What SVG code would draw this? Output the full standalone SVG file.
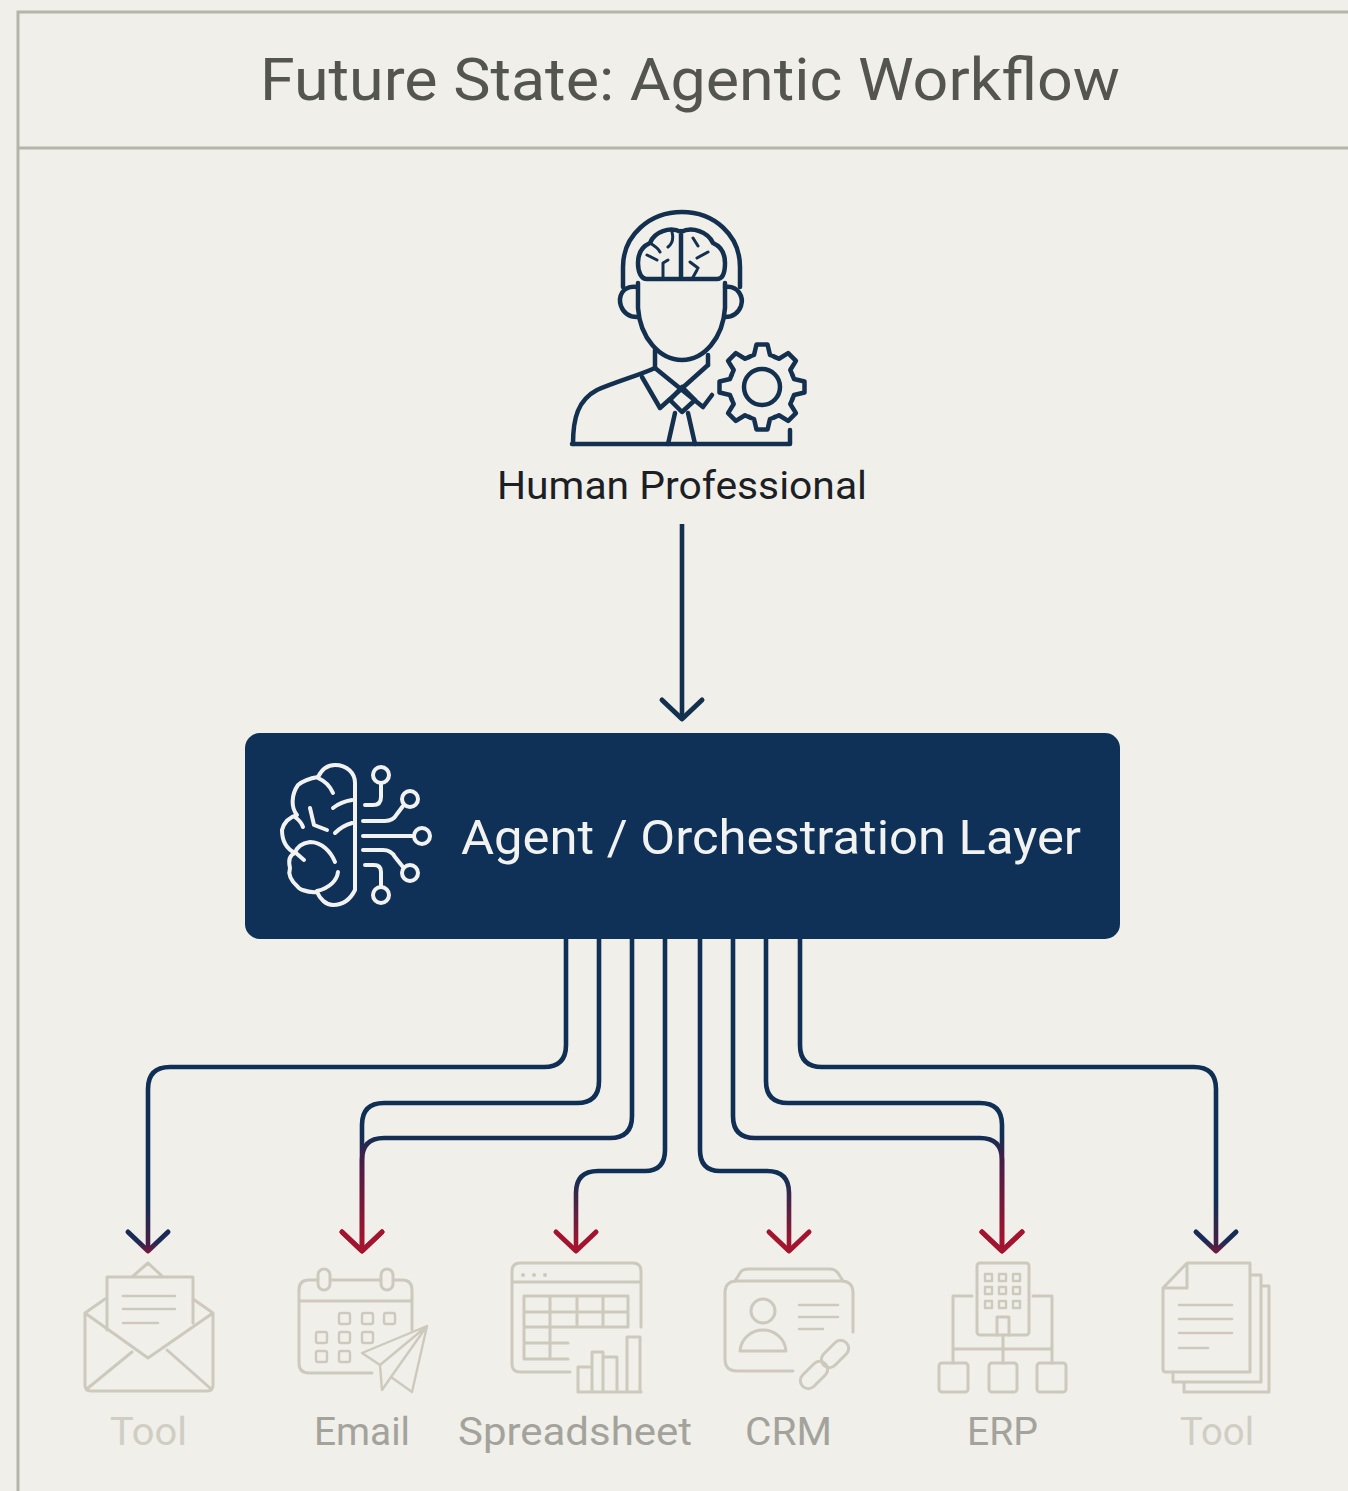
<svg xmlns="http://www.w3.org/2000/svg" xmlns:xlink="http://www.w3.org/1999/xlink" width="1348" height="1491" viewBox="0 0 1348 1491">
<style>
text{font-family:Roboto,"Liberation Sans",sans-serif;text-anchor:middle}
.frame{fill:none;stroke:#b4b4aa;stroke-width:3}
.ico{fill:none;stroke:#14304f;stroke-width:4.5;stroke-linecap:round;stroke-linejoin:round}
.wht{fill:none;stroke:#f2f3f1;stroke-width:4;stroke-linecap:round;stroke-linejoin:round}
.tl{fill:none;stroke:#cdc9bc;stroke-width:3;stroke-linecap:round;stroke-linejoin:round}
.tl2{fill:none;stroke:#cdc9bc;stroke-width:2.4;stroke-linecap:round;stroke-linejoin:round}
.c{fill:none;stroke-width:4.6;stroke-linejoin:round}
.lab{font-size:38px;fill:#a3a39b}
.dim{fill:#d0cdc3}
</style>
<defs>
<linearGradient id="gRed" gradientUnits="userSpaceOnUse" x1="0" y1="1135" x2="0" y2="1240"><stop offset="0" stop-color="#0f2f55"/><stop offset="0.25" stop-color="#471d48"/><stop offset="1" stop-color="#a3142f"/></linearGradient>
<linearGradient id="gRed2" gradientUnits="userSpaceOnUse" x1="0" y1="1175" x2="0" y2="1245"><stop offset="0" stop-color="#0f2f55"/><stop offset="1" stop-color="#a3142f"/></linearGradient>
<linearGradient id="gTool" gradientUnits="userSpaceOnUse" x1="0" y1="1200" x2="0" y2="1255"><stop offset="0" stop-color="#0f2f55"/><stop offset="1" stop-color="#5a1a42"/></linearGradient>
<linearGradient id="gHeadTool" x1="0" y1="0" x2="1" y2="0"><stop offset="0.5" stop-color="#1a2b55"/><stop offset="1" stop-color="#6f1a3c"/></linearGradient>
<marker id="hNavy" viewBox="-24 -24 30 48" refX="0" refY="0" markerWidth="30" markerHeight="48" markerUnits="userSpaceOnUse" orient="auto"><path d="M-19 -20L0 0L-19 20" fill="none" stroke="#14304f" stroke-width="5" stroke-linecap="round" stroke-linejoin="round"/></marker>
<marker id="hRed" viewBox="-24 -24 30 48" refX="0" refY="0" markerWidth="30" markerHeight="48" markerUnits="userSpaceOnUse" orient="auto"><path d="M-19 -20L0 0L-19 20" fill="none" stroke="#a3142f" stroke-width="5" stroke-linecap="round" stroke-linejoin="round"/></marker>
<marker id="hTool" viewBox="-24 -24 30 48" refX="0" refY="0" markerWidth="30" markerHeight="48" markerUnits="userSpaceOnUse" orient="auto"><path d="M-19 -20L0 0L-19 20" fill="none" stroke="url(#gHeadTool)" stroke-width="5" stroke-linecap="round" stroke-linejoin="round"/></marker>
<path id="tooth" d="M-12.5 -30.2Q-10 -31.3 -8 -32L-5.5 -42.5H5.5L8 -32Q10 -31.3 12.5 -30.2"/>
</defs>
<rect width="1348" height="1491" fill="#f0efea"/>
<g id="frame"><path class="frame" d="M18 1491V12H1348M18 148H1348"/></g>
<g id="title"><text x="690" y="100" font-size="60" fill="#55554f" textLength="860" lengthAdjust="spacingAndGlyphs">Future State: Agentic Workflow</text></g>

<g id="node-human">
<g class="ico">
<path d="M623 287V267C623 235 650 212 682 212C714 212 740 235 740 267V287"/>
<path d="M681 231V279M647 279H717C723 279 725 272 725 263C725 252 720 246 713 243C708 232 692 226 681 232C670 226 654 232 650 243C643 246 638 252 638 263C638 272 641 279 647 279Z"/>
<path d="M650 243C655 246 658 248 660 252M647 255L657 260M663 279V263L668 260M672 232C674 240 672 244 668 247M693 238L698 246M697 258L708 252M690 262L698 268M692 279L697 270" stroke-width="3"/>
<path d="M637 287C622 285 618 297 621 306C624 314 630 317 637 317M725 287C738 285 744 297 741 306C738 314 732 317 725 317"/>
<path d="M638 283V308C640 338 660 360 682 360C704 360 723 338 725 308V283"/>
<path d="M655 350V368M708 355V365"/>
<path d="M573 444C573 418 578 400 597 390C615 382 640 375 655 368"/>
<path d="M572 444H790V430"/>
<path d="M642 377L660 408L708 365M655 368L703 407L712 395"/>
<path d="M682 387L670 400L682 412L695 400Z"/>
<path d="M675 413L668 444M688 413L695 444"/>
</g>
<g class="ico" transform="translate(762 387)">
<use xlink:href="#tooth" href="#tooth"/>
<use xlink:href="#tooth" href="#tooth" transform="rotate(45)"/>
<use xlink:href="#tooth" href="#tooth" transform="rotate(90)"/>
<use xlink:href="#tooth" href="#tooth" transform="rotate(135)"/>
<use xlink:href="#tooth" href="#tooth" transform="rotate(180)"/>
<use xlink:href="#tooth" href="#tooth" transform="rotate(225)"/>
<use xlink:href="#tooth" href="#tooth" transform="rotate(270)"/>
<use xlink:href="#tooth" href="#tooth" transform="rotate(315)"/>
<circle r="18"/>
</g>
<text x="682" y="499" font-size="38" fill="#1c1f24" textLength="370" lengthAdjust="spacingAndGlyphs">Human Professional</text>
</g>

<g id="node-agent">
<rect x="245" y="733" width="875" height="206" rx="15" fill="#0f3158"/>
<g class="wht">
<path d="M355 783V890C350 900 342 905 333 905C326 905 320 899 317 892C306 893 298 888 298 887C290 880 288 874 290 868C288 860 290 855 295 853C285 848 282 840 282 830C284 822 290 817 297 815C291 808 291 795 298 785C304 780 312 778 318 777C322 769 328 765 335 765C347 765 355 773 355 783Z"/>
<path d="M318 778C325 781 330 786 333 793M333 808C338 804 345 801 352 800M335 833C339 829 345 825 352 823M310 808L314 825L327 830M295 817C299 820 302 824 303 827M295 853C297 846 303 843 310 842C322 842 331 852 335 862M296 853L304 860M338 872C337 880 330 888 317 891"/>
<circle cx="381" cy="775" r="8"/><path d="M381 783V797Q381 805 373 805H365"/>
<circle cx="410" cy="799" r="8"/><path d="M363 821H385Q393 821 397 814L403 806"/>
<circle cx="422" cy="836" r="8"/><path d="M363 836H414"/>
<circle cx="410" cy="873" r="8"/><path d="M363 850H383Q391 850 395 857L403 867"/>
<circle cx="381" cy="895" r="8"/><path d="M365 865H374Q381 865 381 872V887"/>
</g>
<text x="771" y="854" font-size="48" fill="#f2f3f1" textLength="620" lengthAdjust="spacingAndGlyphs">Agent / Orchestration Layer</text>
</g>

<g id="connectors">
<path class="c" stroke="#14304f" marker-end="url(#hNavy)" d="M682 524V719"/>
<path class="c" stroke="url(#gTool)" marker-end="url(#hTool)" d="M566 939V1045Q566 1067 544 1067H170Q148 1067 148 1089V1251"/>
<path class="c" stroke="url(#gRed)" marker-end="url(#hRed)" d="M599 939V1081Q599 1103 577 1103H384Q362 1103 362 1125V1251"/>
<path class="c" stroke="url(#gRed)" marker-end="url(#hRed)" d="M632 939V1116Q632 1138 610 1138H384Q362 1138 362 1160V1251"/>
<path class="c" stroke="url(#gRed2)" marker-end="url(#hRed)" d="M665 939V1150Q665 1171 645 1171H598Q576 1171 576 1193V1251"/>
<path class="c" stroke="url(#gRed2)" marker-end="url(#hRed)" d="M700 939V1150Q700 1171 720 1171H767Q789 1171 789 1193V1251"/>
<path class="c" stroke="url(#gRed)" marker-end="url(#hRed)" d="M733 939V1116Q733 1138 755 1138H980Q1002 1138 1002 1160V1251"/>
<path class="c" stroke="url(#gRed)" marker-end="url(#hRed)" d="M766 939V1081Q766 1103 788 1103H980Q1002 1103 1002 1125V1251"/>
<path class="c" stroke="url(#gTool)" marker-end="url(#hTool)" d="M800 939V1045Q800 1067 822 1067H1194Q1216 1067 1216 1089V1251"/>
</g>

<g id="node-tool-left">
<g class="tl">
<path d="M85 1313V1385Q85 1391 91 1391H207Q213 1391 213 1385V1313L148 1358ZM85 1313L105 1299M213 1313L193 1299M88 1388L132 1352M210 1388L167 1350"/>
<path d="M107 1330V1277H193V1323M132 1277L148 1263L163 1277"/>
<path class="tl2" d="M123 1296H175M123 1309H175M123 1323H158"/>
</g>
<text class="lab dim" x="148.500" y="1445" textLength="77" lengthAdjust="spacingAndGlyphs">Tool</text>
</g>

<g id="node-email">
<g class="tl">
<path d="M372 1373H309Q299 1373 299 1363V1290Q299 1280 309 1280H402Q412 1280 412 1290V1330M299 1301H412"/>
<rect x="318" y="1269" width="12" height="21" rx="6" fill="#f0efea"/><rect x="381" y="1269" width="12" height="21" rx="6" fill="#f0efea"/>
<path class="tl2" d="M427 1326L362 1353L380 1365L382 1390L391 1377L412 1392ZM427 1326L380 1365M427 1326L391 1377"/>
<g class="tl2"><rect x="339" y="1313" width="11" height="11" rx="2"/><rect x="362" y="1313" width="11" height="11" rx="2"/><rect x="384" y="1313" width="11" height="11" rx="2"/><rect x="316" y="1332" width="11" height="11" rx="2"/><rect x="339" y="1332" width="11" height="11" rx="2"/><rect x="362" y="1332" width="11" height="11" rx="2"/><rect x="316" y="1351" width="11" height="11" rx="2"/><rect x="339" y="1351" width="11" height="11" rx="2"/></g>
</g>
<text class="lab" x="362" y="1445" textLength="96" lengthAdjust="spacingAndGlyphs">Email</text>
</g>

<g id="node-spreadsheet">
<g class="tl">
<path d="M570 1372H520Q512 1372 512 1364V1271Q512 1263 520 1263H633Q641 1263 641 1271V1327M512 1282H641"/>
<path d="M577 1327H524V1296H628V1327H577M524 1312H628M550 1296V1359M577 1296V1327M603 1296V1327M524 1327V1359H568M524 1343H568"/>
<path d="M578 1392H641M578 1392V1367H592M592 1392V1352H603V1392M603 1357H617V1392M627 1392V1337H640V1392"/>
</g>
<circle cx="523" cy="1275" r="2" fill="#cdc9bc"/><circle cx="534" cy="1275" r="2" fill="#cdc9bc"/><circle cx="545" cy="1275" r="2" fill="#cdc9bc"/>
<text class="lab" x="575" y="1445" textLength="234" lengthAdjust="spacingAndGlyphs">Spreadsheet</text>
</g>

<g id="node-crm">
<g class="tl">
<path d="M735 1281L740 1273Q742 1269 748 1269H830Q835 1269 838 1273L843 1281"/>
<path d="M793 1371H737Q725 1371 725 1359V1293Q725 1281 737 1281H841Q853 1281 853 1293V1332"/>
<circle cx="763" cy="1311" r="12"/>
<path d="M740 1351C741 1338 752 1330 763 1330C774 1330 785 1338 786 1351Z"/>
<path class="tl2" d="M799 1305H838M799 1317H838M799 1329H823"/>
<rect x="-16" y="-8" width="32" height="16" rx="8" transform="translate(835 1354) rotate(-45)"/>
<rect x="-16" y="-8" width="32" height="16" rx="8" transform="translate(814 1375) rotate(-45)"/>
</g>
<text class="lab" x="788.500" y="1445" textLength="87" lengthAdjust="spacingAndGlyphs">CRM</text>
</g>

<g id="node-erp">
<g class="tl">
<rect x="977" y="1263" width="52" height="72" rx="3"/>
<path d="M997 1335V1317H1009V1335M972 1296H953V1363M1033 1296H1052V1363M953 1349H1052M1003 1335V1363"/>
<rect x="939" y="1363" width="29" height="29" rx="3"/><rect x="989" y="1363" width="28" height="29" rx="3"/><rect x="1037" y="1363" width="29" height="29" rx="3"/>
<g class="tl2" stroke-width="1.6"><rect x="985" y="1274" width="7" height="7"/><rect x="999" y="1274" width="7" height="7"/><rect x="1013" y="1274" width="7" height="7"/><rect x="985" y="1287" width="7" height="7"/><rect x="999" y="1287" width="7" height="7"/><rect x="1013" y="1287" width="7" height="7"/><rect x="985" y="1301" width="7" height="7"/><rect x="999" y="1301" width="7" height="7"/><rect x="1013" y="1301" width="7" height="7"/></g>
</g>
<text class="lab" x="1002.500" y="1445" textLength="71" lengthAdjust="spacingAndGlyphs">ERP</text>
</g>

<g id="node-tool-right">
<g class="tl">
<path d="M1187 1263H1250V1372H1166Q1163 1372 1163 1369V1288ZM1163 1288H1187V1263"/>
<path d="M1251 1275H1261V1382H1173V1372M1261 1286H1269V1392H1184V1382"/>
<path class="tl2" d="M1179 1305H1232M1179 1319H1232M1179 1333H1232M1179 1348H1208"/>
</g>
<text class="lab dim" x="1217" y="1445" textLength="74" lengthAdjust="spacingAndGlyphs">Tool</text>
</g>
</svg>
